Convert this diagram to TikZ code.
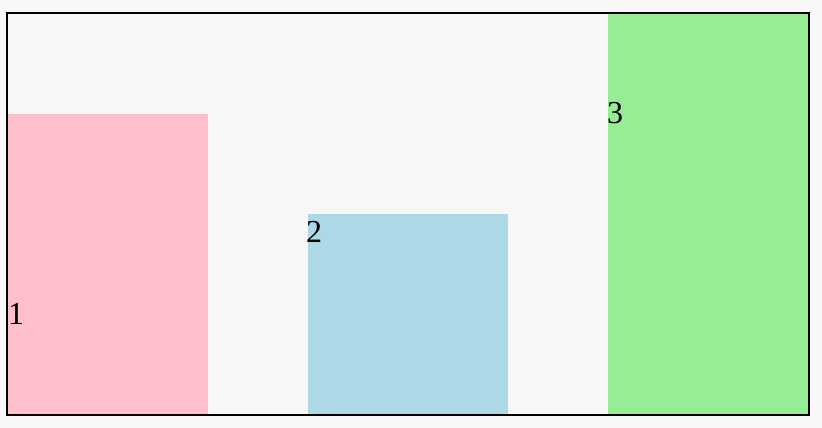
\documentclass[tikz,border=0pt]{standalone}
\usepackage{fontspec}
\setmainfont{Liberation Serif}
\usepackage{xcolor}
\usepackage{tikz}
\definecolor{pagebg}{HTML}{F7F7F7}
\definecolor{barpink}{HTML}{FFC0CB}
\definecolor{barblue}{HTML}{ADD8E6}
\definecolor{bargreen}{HTML}{95EE95}
\tikzset{barlabel/.style={anchor=base west, inner sep=0pt, font=\fontsize{32}{38}\selectfont}}

\begin{document}
\begin{tikzpicture}[x=1pt, y=-1pt]
\fill[pagebg] (0, 0) rectangle (822, 428);
\useasboundingbox (0, 0) rectangle (822, 428);
\fill[barpink] (8, 114) rectangle (208, 414);
\node[barlabel] (one) at (8, 324) {1};
\fill[barblue] (308, 214) rectangle (508, 414);
\node[barlabel] (two) at (306, 242) {2};
\fill[bargreen] (608, 14) rectangle (808, 414);
\node[barlabel] (three) at (607, 123) {3};
\draw[line width=2pt] (7, 13) rectangle (809, 414.5);
\end{tikzpicture}
\end{document}
